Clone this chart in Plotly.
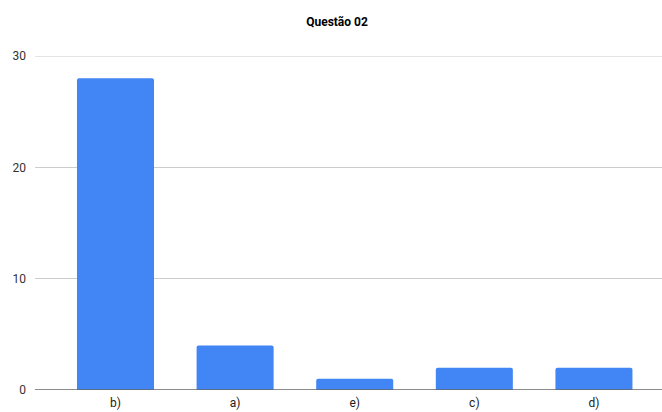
import plotly.graph_objects as go

categories = ["b)", "a)", "e)", "c)", "d)"]
values = [28, 4, 1, 2, 2]
y_ticks = [0, 10, 20, 30]

fig = go.Figure(go.Bar(
    x=categories, y=values,
    marker=dict(color="#4285F4", cornerradius=2, line=dict(width=0)),
    hoverinfo="x+y",
))

fig.update_layout(
    width=662, height=412,
    margin=dict(l=35, r=0, t=56, b=22),
    paper_bgcolor="white", plot_bgcolor="white",
    bargap=0.356,
    font=dict(family="Roboto, Arial, sans-serif", size=12, color="#222222"),
    title=dict(text="<b>Questão 02</b>", x=337 / 662, xref="container", xanchor="center",
               y=1 - 22 / 412, yref="container", yanchor="middle",
               font=dict(family="Roboto, Arial, sans-serif", size=12, color="#000000")),
    showlegend=False,
)
fig.update_xaxes(
    range=[-0.673, 4.569], showgrid=False, showline=False, zeroline=False,
    ticks="", ticklabelstandoff=4, tickfont=dict(color="#222222", size=12),
)
fig.update_yaxes(
    range=[0, 30], tickvals=y_ticks, showgrid=True, gridcolor="#cccccc", gridwidth=1,
    zeroline=False, showline=False, ticks="", ticklabelstandoff=8,
    tickfont=dict(color="#333333", size=12),
)
fig.add_hline(y=30, line=dict(color="#cccccc", width=1), layer="below")
fig.add_hline(y=0, line=dict(color="#666666", width=1.5), layer="above")

fig.write_html("out.html")
